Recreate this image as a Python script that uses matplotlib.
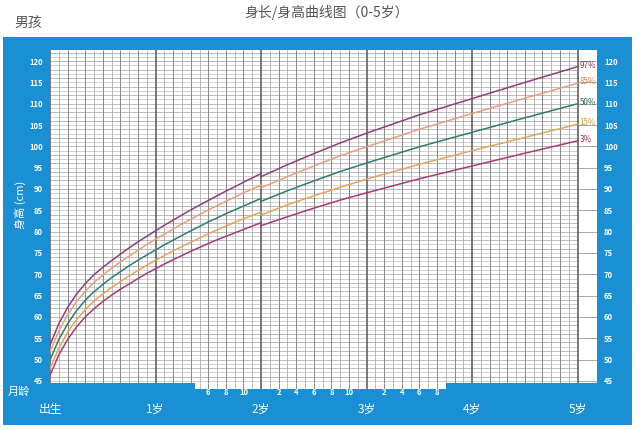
import matplotlib
matplotlib.use("Agg")
import matplotlib.pyplot as plt
from matplotlib.patches import Rectangle

plt.rcParams['font.family'] = ['Noto Sans CJK SC', 'DejaVu Sans']

# length (lying) 0-24 months
months_len = list(range(0, 25))
p3_len = [46.3, 51.1, 54.7, 57.6, 60.0, 61.9, 63.6, 65.1, 66.5, 67.7, 69.0, 70.2, 71.3,
          72.4, 73.4, 74.4, 75.4, 76.3, 77.2, 78.1, 78.9, 79.7, 80.5, 81.3, 82.1]
p15_len = [47.9, 52.7, 56.4, 59.3, 61.7, 63.7, 65.4, 66.9, 68.3, 69.6, 70.9, 72.1, 73.3,
           74.4, 75.5, 76.5, 77.5, 78.5, 79.5, 80.4, 81.3, 82.2, 83.0, 83.8, 84.6]
p50_len = [49.9, 54.7, 58.4, 61.4, 63.9, 65.9, 67.6, 69.2, 70.6, 72.0, 73.3, 74.5, 75.7,
           76.9, 78.0, 79.1, 80.2, 81.2, 82.3, 83.2, 84.2, 85.1, 86.0, 86.9, 87.8]
p85_len = [51.8, 56.7, 60.5, 63.5, 66.0, 68.1, 69.8, 71.4, 72.9, 74.3, 75.6, 77.0, 78.2,
           79.4, 80.6, 81.8, 82.9, 84.0, 85.1, 86.1, 87.1, 88.1, 89.1, 90.0, 90.9]
p97_len = [53.4, 58.4, 62.2, 65.3, 67.8, 69.9, 71.6, 73.2, 74.7, 76.2, 77.6, 78.9, 80.2,
           81.5, 82.7, 83.9, 85.1, 86.2, 87.3, 88.4, 89.5, 90.5, 91.6, 92.6, 93.6]

# height (standing) 24-60 months
months_ht = [24, 27, 30, 33, 36, 42, 48, 54, 60]
p3_ht = [81.4, 83.5, 85.5, 87.4, 89.1, 92.4, 95.4, 98.4, 101.3]
p15_ht = [83.9, 86.3, 88.4, 90.4, 92.3, 95.8, 99.0, 102.1, 105.2]
p50_ht = [87.1, 89.6, 91.9, 94.1, 96.1, 99.9, 103.3, 106.7, 110.0]
p85_ht = [90.3, 92.9, 95.4, 97.8, 99.9, 104.0, 107.7, 111.3, 114.8]
p97_ht = [92.9, 95.7, 98.3, 100.8, 103.1, 107.4, 111.2, 115.0, 118.7]

pct_labels = ['97%', '85%', '50%', '15%', '3%']
line_colors = ['#8e3f78', '#e8a07c', '#2e7d6c', '#e3a55e', '#a83a78']
label_colors = ['#8a2f50', '#d8894f', '#2a6650', '#d8a040', '#a03050']

height_ticks = list(range(45, 121, 5))
year_labels = ['出生', '1岁', '2岁', '3岁', '4岁', '5岁']
month_ticks = [18, 20, 22, 26, 28, 30, 32, 34, 38, 40, 42, 44]
month_tick_labels = ['6', '8', '10', '2', '4', '6', '8', '10', '2', '4', '6', '8']

blue = '#1a8fd3'


def vline_style(m):
    if m % 12 == 0:
        return '#555555', 1.1
    if m % 2 == 0:
        return '#7e7e7e', 0.65
    return '#a8a8a8', 0.55


fig = plt.figure(figsize=(6.4, 4.3), dpi=100)
# blue frame behind everything
bg = fig.add_axes([3 / 640, 5 / 430, 629 / 640, 388 / 430], zorder=-5)
bg.set_facecolor(blue)
bg.set_xticks([])
bg.set_yticks([])
for s in bg.spines.values():
    s.set_visible(False)

ax = fig.add_axes([50 / 640, 47 / 430, 547 / 640, 333 / 430])
ax.set_facecolor('white')
ax.set_xlim(0, 62.2)
ax.set_ylim(44.5, 122.6)
for s in ax.spines.values():
    s.set_visible(False)

# grid
for cm in range(45, 123):
    ax.hlines(cm, 0, 60, color='#a0a0a0' if cm % 2 == 0 else '#c0c0c0',
              lw=0.5, zorder=1)
for cm in range(45, 123, 5):
    ax.hlines(cm, 60, 62.2, color='#9a9a9a', lw=0.6, zorder=1)
for m in range(0, 61):
    c, w = vline_style(m)
    ax.vlines(m, 44.5, 122.6, color=c, lw=w, zorder=2 if m % 12 == 0 else 1)

# white strip below the grid with month marks
ax.add_patch(Rectangle((16.5, 43.1), 28.5, 1.45, facecolor='white',
                       edgecolor='none', clip_on=False, zorder=1))
for m in range(17, 45):
    c, w = vline_style(m)
    ax.vlines(m, 43.1, 44.5, color=c, lw=w, clip_on=False, zorder=1)

len_series = [p97_len, p85_len, p50_len, p15_len, p3_len]
ht_series = [p97_ht, p85_ht, p50_ht, p15_ht, p3_ht]
for lv, hv, c, lc, lab in zip(len_series, ht_series, line_colors, label_colors, pct_labels):
    ax.plot(months_len, lv, color=c, lw=1.1, zorder=3)
    ax.plot(months_ht, hv, color=c, lw=1.1, zorder=3)
    ax.text(60.2, hv[-1] + 0.3, lab, color=lc, fontsize=5.8, ha='left',
            va='center', zorder=4)

# height ticks both sides
ax.set_xticks([])
ax.set_yticks(height_ticks)
ax.set_yticklabels([str(v) for v in height_ticks])
ax.tick_params(axis='y', length=0, pad=5, labelsize=5.5, labelcolor='white',
               left=True, right=True, labelleft=True, labelright=True)
for t in ax.get_yticklabels():
    t.set_fontweight('bold')

# month labels under the strip
for m, lab in zip(month_ticks, month_tick_labels):
    ax.text(m, 42.3, lab, color='white', fontsize=5.5, fontweight='bold',
            ha='center', va='center', clip_on=False)
for i, lab in enumerate(year_labels):
    ax.text(i * 12, 38.4, lab, color='white', fontsize=8.5, ha='center',
            va='center', clip_on=False)
ax.text(-3.6, 42.4, '月龄', color='white', fontsize=8, ha='center', va='center',
        clip_on=False)

fig.text(20 / 640, 1 - 205 / 430, '身高 (cm)', rotation=90, color='white',
         fontsize=8, ha='center', va='center')
fig.text(0.51, 1 - 12 / 430, '身长/身高曲线图（0-5岁）', color='#555555',
         fontsize=10, ha='center', va='center')
fig.text(28 / 640, 1 - 23 / 430, '男孩', color='#555555', fontsize=10,
         ha='center', va='center')

fig.savefig('out.png', dpi=100, facecolor='white')
